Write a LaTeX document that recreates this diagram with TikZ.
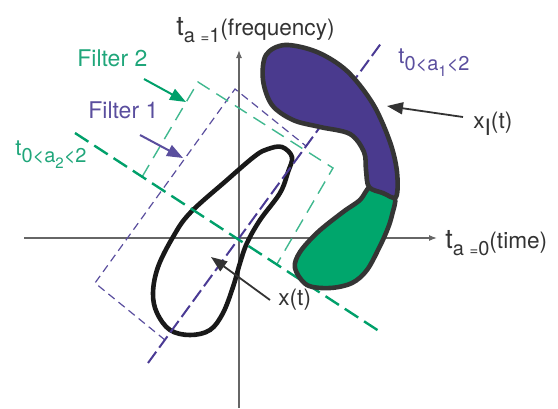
\documentclass[tikz,border=0pt]{standalone}
\usepackage{fontspec}
\setmainfont{TeX Gyre Heros}
\usepackage{xcolor}
\usetikzlibrary{arrows.meta,calc,positioning}

\definecolor{axpurple}{HTML}{4A3A94}
\definecolor{axgreen}{HTML}{00A06A}
\definecolor{txpurple}{HTML}{5A4E9E}
\definecolor{txgreen}{HTML}{1FA67A}
\definecolor{blobpurple}{HTML}{4A3A8E}
\definecolor{blobgreen}{HTML}{00A66C}
\definecolor{rimgray}{HTML}{353535}
\definecolor{labgray}{HTML}{333333}

\newcommand{\tbig}{{\fontsize{13.5}{15}\selectfont t}}
\newcommand{\subtx}[1]{\raisebox{-3.5pt}{\fontsize{10}{12}\selectfont #1}}
\newcommand{\eqsm}{{\fontsize{7.5}{8}\selectfont =}}

\begin{document}
\begin{tikzpicture}[x=0.5pt, y=-0.5pt, >=Latex,
  axis/.style={draw=gray!80!black, line width=0.6pt, -{Latex[length=4pt,width=3pt]}},
  lbl/.style={anchor=base west, inner sep=0pt, font=\fontsize{11.3}{13}\selectfont},
  filterbox/.style={line width=0.6pt},
  pointer/.style={line width=1pt, -{Triangle[length=8pt,width=6pt]}}]
  \useasboundingbox (0,0) rectangle (558,408);
  \coordinate (O) at (239,238);
  \coordinate (W) at (24,238);
  \coordinate (E) at (437,238);
  \coordinate (S) at (239,408);
  \coordinate (N) at (239,50);
  \draw[axis] (W) -- (E);
  \draw[axis] (S) -- (N);
  \node[lbl, text=labgray] (lfreq) at (176,35) {\tbig\subtx{a \eqsm1}(frequency)};
  \node[lbl, text=labgray] (ltime) at (445,248) {\tbig\subtx{a \eqsm0}(time)};
  % filter boxes
  \draw[filterbox, txpurple, dash pattern=on 4pt off 2.5pt] (165,340) -- (95,283) -- (235,89) -- (306,146);
  \draw[filterbox, axgreen!75, line width=0.7pt, dash pattern=on 7pt off 4pt] (142,177) -- (198,82) -- (333,168) -- (277,264);
  % x(t)
  \draw[line width=2.3pt, black!90, line join=round] plot[smooth cycle, tension=0.6] coordinates {
    (282,147) (292,157) (288,172) (280,193) (260,220) (247,243) (240,263) (233,287)
    (223,313) (210,330) (190,335) (170,330) (157,313) (153,293) (158,267) (173,237)
    (190,213) (227,180) (255,156) (268,149)};
  % rotated axes
  \coordinate (P1) at (148,363);
  \coordinate (P2) at (382,42);
  \coordinate (G1) at (75,133);
  \coordinate (G2) at (382,333);
  \draw[axpurple, line width=1pt, dash pattern=on 7pt off 2.5pt] (P1) -- (P2);
  \draw[axgreen, line width=1.2pt, dash pattern=on 8pt off 3.5pt] (G1) -- (G2);
  \node[lbl, text=txpurple] (la1) at (398,63) {\fontsize{11}{12}\selectfont t\raisebox{-3.5pt}{\fontsize{10}{11}\selectfont 0<a\raisebox{-3pt}{\fontsize{7.5}{8}\selectfont 1}<2}};
  \node[lbl, text=txgreen] (la2) at (15,155) {\fontsize{11}{12}\selectfont t\raisebox{-3.5pt}{\fontsize{10}{11}\selectfont 0<a\raisebox{-3pt}{\fontsize{7.5}{8}\selectfont 2}<2}};
  % x_I(t)
  \draw[rimgray, line width=2.3pt, fill=blobgreen, line join=round] plot[smooth cycle, tension=0.55] coordinates {
    (370,187) (383,193) (395,198) (392,215) (388,228) (380,246) (367,270) (352,283)
    (330,288) (307,285) (295,268) (300,252) (318,232) (343,212) (360,200)};
  \draw[rimgray, line width=2.3pt, fill=blobpurple, line join=round] plot[smooth cycle, tension=0.55] coordinates {
    (266,55) (285,45) (317,52) (347,71) (373,104) (390,142) (397,172) (396,197)
    (383,193) (369,187) (366,170) (364,152) (350,134) (320,127) (293,120) (272,105) (263,80)};
  % labels and pointers
  \node[lbl, text=txgreen, font=\fontsize{11.5}{13}\selectfont] (lf2) at (77,66) {Filter 2};
  \node[lbl, text=txpurple, font=\fontsize{11.5}{13}\selectfont] (lf1) at (88,118) {Filter 1};
  \node[lbl, text=labgray] (lxi) at (473,128) {x\raisebox{-3.5pt}{I}(t)};
  \node[lbl, text=labgray] (lx) at (278,305) {x(t)};
  \coordinate (f2a) at (144,79);
  \coordinate (f2b) at (186,102);
  \coordinate (f1a) at (140,135);
  \coordinate (f1b) at (183,158);
  \coordinate (xia) at (463,117);
  \coordinate (xib) at (387,106);
  \coordinate (xa) at (270,300);
  \coordinate (xb) at (211,257);
  \draw[pointer, axgreen] (f2a) -- (f2b);
  \draw[pointer, txpurple] (f1a) -- (f1b);
  \draw[pointer, labgray, line width=0.9pt] (xia) -- (xib);
  \draw[pointer, labgray, line width=0.9pt] (xa) -- (xb);
\end{tikzpicture}
\end{document}
